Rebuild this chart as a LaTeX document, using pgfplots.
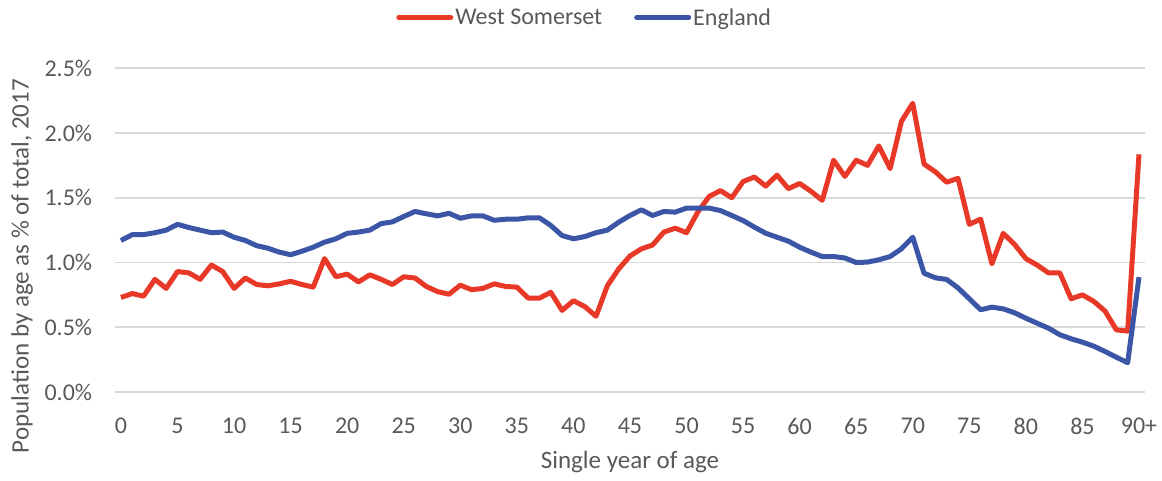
\documentclass[border=0pt]{standalone}
\usepackage{fontspec}
\setmainfont{Carlito}
\usepackage{pgfplots}
\pgfplotsset{compat=1.18}
\definecolor{wsred}{RGB}{232,57,40}
\definecolor{engblue}{RGB}{59,86,166}
\definecolor{gridgray}{RGB}{217,217,217}
\definecolor{txtgray}{RGB}{89,89,89}
\pgfplotstableread{
age ws eng
0 0.73 1.17
1 0.76 1.215
2 0.74 1.215
3 0.87 1.23
4 0.80 1.25
5 0.93 1.295
6 0.92 1.27
7 0.87 1.25
8 0.98 1.23
9 0.93 1.235
10 0.80 1.195
11 0.88 1.17
12 0.83 1.13
13 0.82 1.11
14 0.835 1.08
15 0.855 1.06
16 0.83 1.087
17 0.81 1.118
18 1.03 1.157
19 0.89 1.183
20 0.91 1.225
21 0.85 1.235
22 0.905 1.25
23 0.87 1.30
24 0.83 1.314
25 0.89 1.355
26 0.88 1.394
27 0.815 1.376
28 0.775 1.36
29 0.755 1.38
30 0.825 1.342
31 0.79 1.36
32 0.80 1.36
33 0.835 1.326
34 0.815 1.334
35 0.81 1.334
36 0.725 1.345
37 0.725 1.345
38 0.77 1.286
39 0.63 1.208
40 0.705 1.183
41 0.66 1.20
42 0.585 1.23
43 0.82 1.25
44 0.95 1.311
45 1.05 1.363
46 1.105 1.407
47 1.135 1.363
48 1.235 1.394
49 1.265 1.389
50 1.23 1.42
51 1.39 1.42
52 1.51 1.42
53 1.555 1.401
54 1.50 1.363
55 1.625 1.324
56 1.66 1.273
57 1.59 1.226
58 1.675 1.195
59 1.57 1.165
60 1.61 1.118
61 1.55 1.08
62 1.48 1.046
63 1.79 1.046
64 1.665 1.035
65 1.79 1.0
66 1.75 1.003
67 1.90 1.021
68 1.725 1.046
69 2.09 1.106
70 2.23 1.195
71 1.76 0.917
72 1.70 0.882
73 1.62 0.869
74 1.65 0.804
75 1.295 0.72
76 1.335 0.635
77 0.99 0.655
78 1.225 0.642
79 1.14 0.612
80 1.03 0.57
81 0.98 0.531
82 0.92 0.493
83 0.92 0.442
84 0.72 0.411
85 0.75 0.385
86 0.70 0.354
87 0.625 0.313
88 0.48 0.269
89 0.47 0.226
90 1.835 0.887
}\datatable
\begin{document}
\begin{tikzpicture}
\useasboundingbox (-115.3pt,-88pt) rectangle (1046.7pt,392pt);
\begin{axis}[
  scale only axis,
  width=1029.4pt, height=323.75pt,
  xmin=-0.5, xmax=90.5, ymin=0, ymax=2.5,
  axis line style={draw=none},
  major tick length=0pt,
  ymajorgrids,
  grid style={gridgray, line width=1.6pt},
  ytick={0,0.5,1,1.5,2,2.5},
  yticklabels={0.0\%,0.5\%,1.0\%,1.5\%,2.0\%,2.5\%},
  xtick={0,5,...,90},
  xticklabels={0,5,10,15,20,25,30,35,40,45,50,55,60,65,70,75,80,85,90+},
  /pgf/number format/assume math mode=true,
  tick label style={font=\fontsize{24}{28}\selectfont, text=txtgray, inner sep=0pt},
  yticklabel style={anchor=east, xshift=-23pt},
  xticklabel style={anchor=north, yshift=-26pt},
  xlabel={Single year of age},
  ylabel={Population by age as \% of total, 2017},
  label style={font=\fontsize{25}{30}\selectfont, text=txtgray},
  xlabel style={at={(axis description cs:0.5,-0.216)}, anchor=center},
  ylabel style={at={(axis description cs:-0.0906,0.389)}, rotate=0, anchor=center},
  legend columns=2,
  legend style={at={(axis description cs:0.456,1.157)}, anchor=center, draw=none, fill=none,
    font=\fontsize{24}{28}\selectfont, text=txtgray,
    /tikz/every even column/.append style={column sep=30pt},
    inner sep=0pt},
  legend image code/.code={\draw[#1, line width=5pt, line cap=round] (0pt,0pt) -- (52pt,0pt);},
  every axis plot/.append style={line width=5pt, line join=round, no markers},
]
\addplot[wsred] table[x=age, y=ws] {\datatable};
\addlegendentry{West Somerset}
\addplot[engblue] table[x=age, y=eng] {\datatable};
\addlegendentry{England}
\end{axis}
\end{tikzpicture}
\end{document}
